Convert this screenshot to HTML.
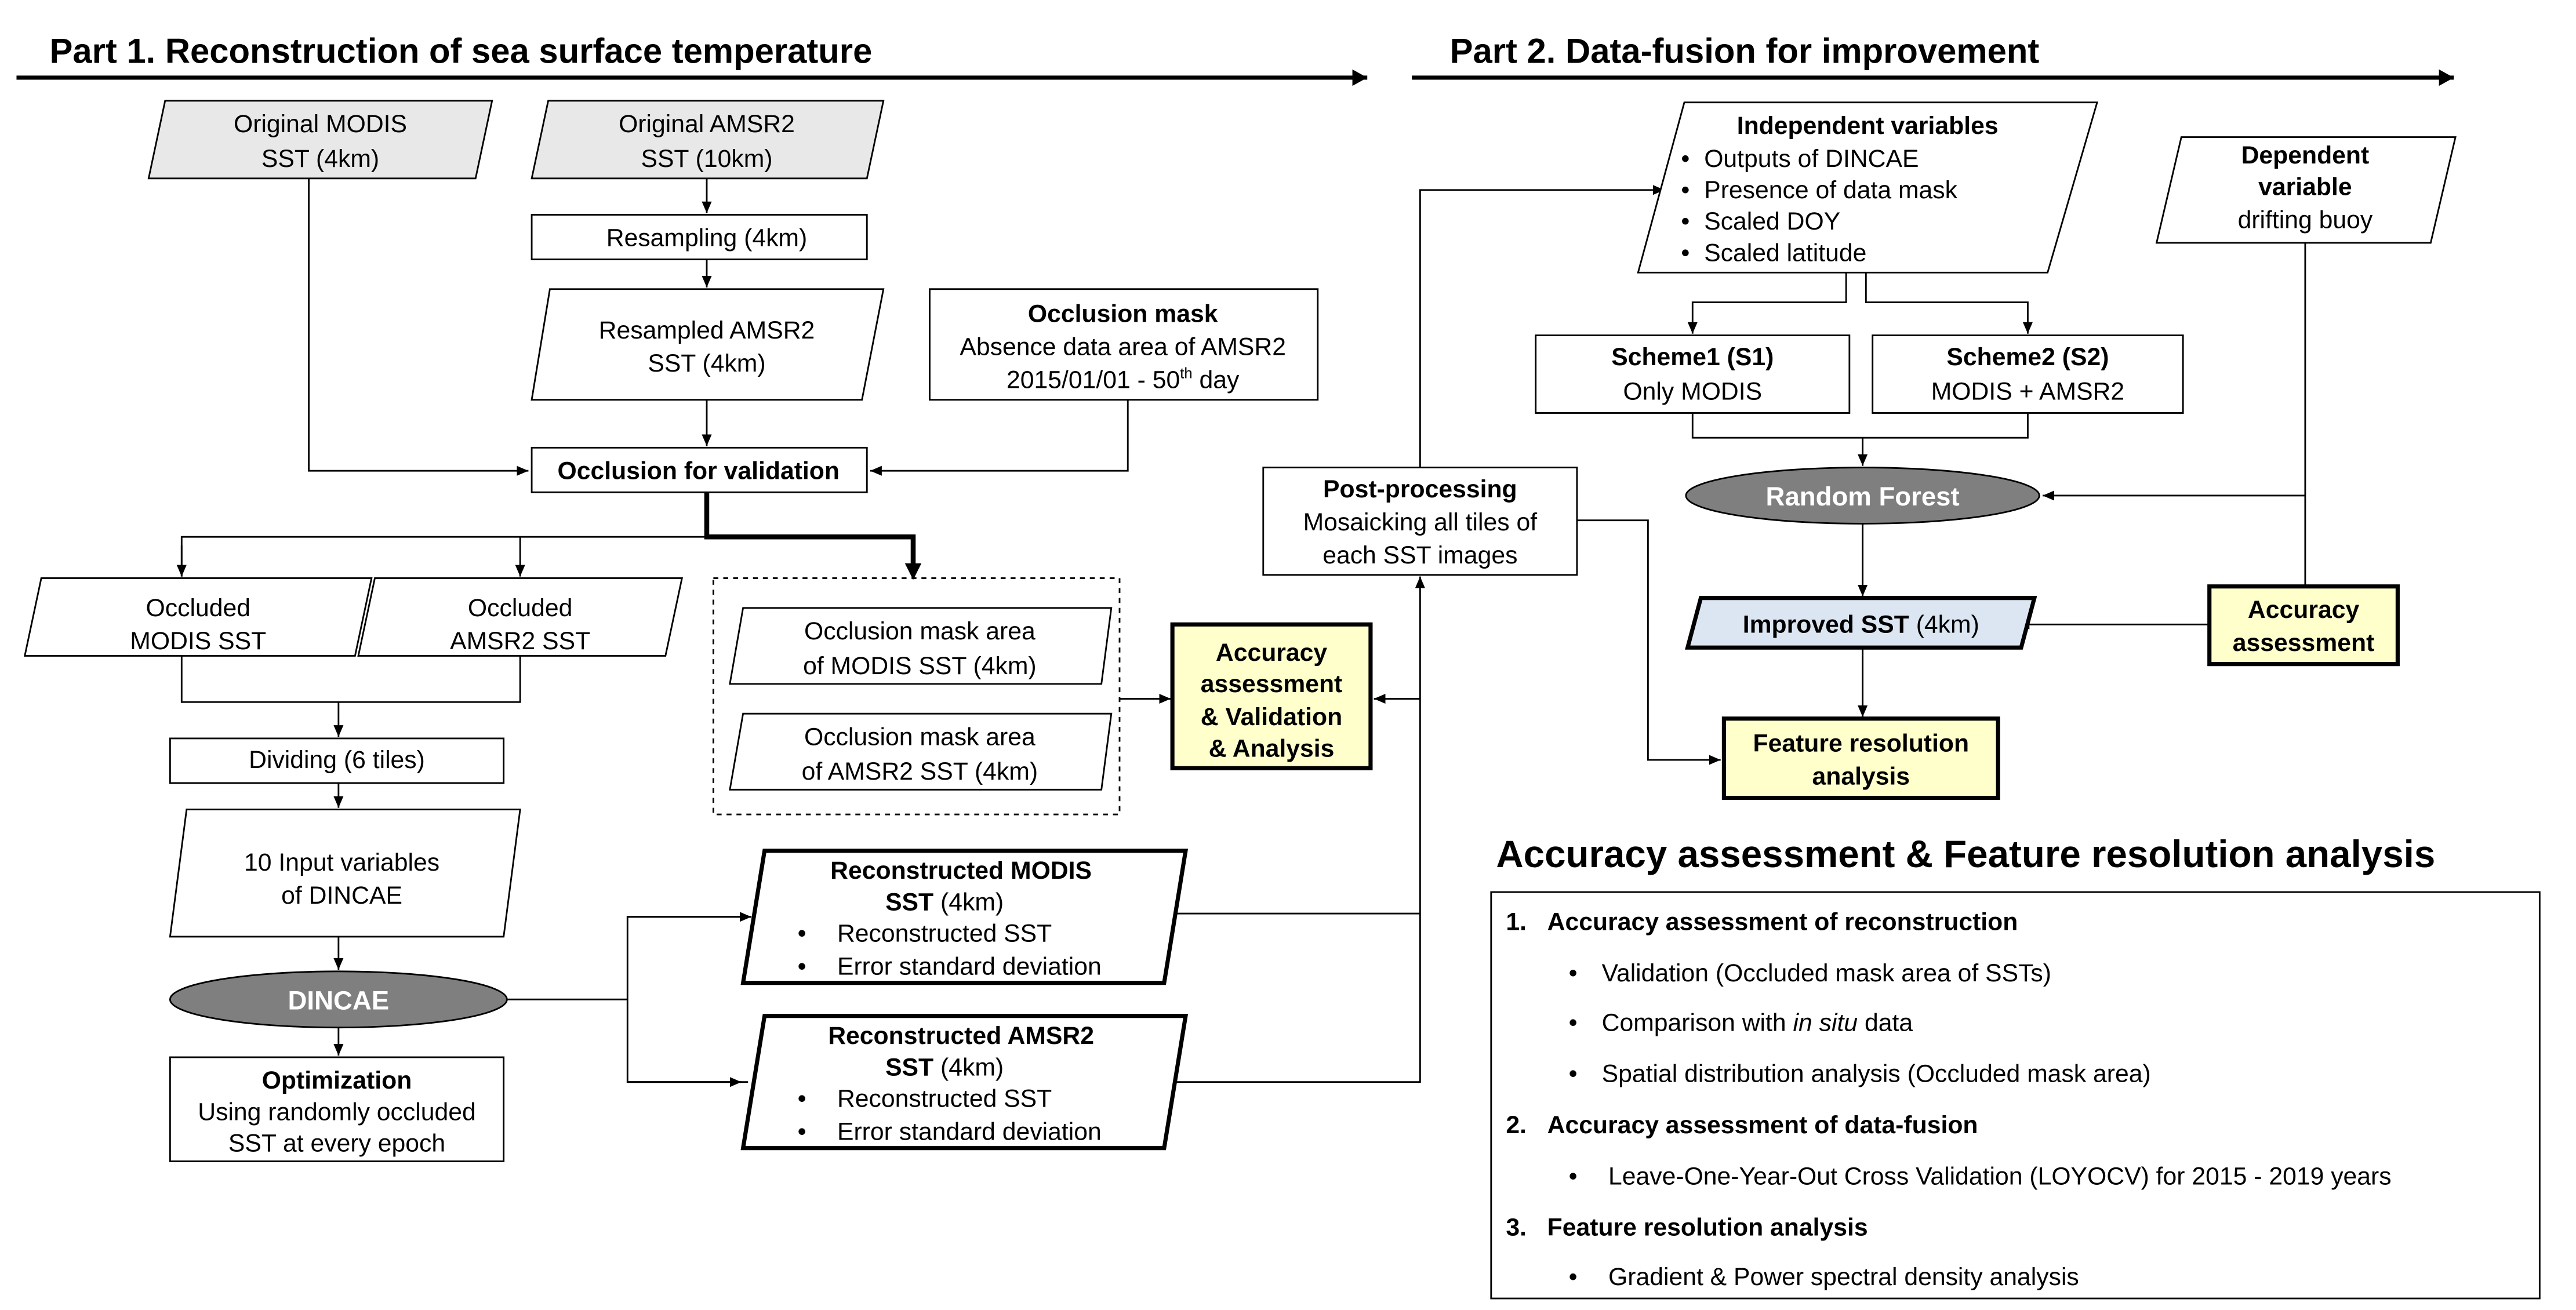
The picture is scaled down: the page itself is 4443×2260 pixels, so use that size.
<!DOCTYPE html>
<html><head><meta charset="utf-8"><style>html,body{margin:0;padding:0;background:#fff;}svg{display:block;}</style></head>
<body>
<svg xmlns="http://www.w3.org/2000/svg" width="4443" height="2260" viewBox="0 0 1560 793" preserveAspectRatio="none" font-family="Liberation Sans, Arial, sans-serif">
<defs>
<marker id="a" markerWidth="8" markerHeight="8" refX="7" refY="4" orient="auto" markerUnits="userSpaceOnUse"><path d="M0,1 L7,4 L0,7 Z" fill="#000"/></marker>
<marker id="ab" markerWidth="10" markerHeight="10" refX="9" refY="5" orient="auto" markerUnits="userSpaceOnUse"><path d="M0,0 L9,5 L0,10 Z" fill="#000"/></marker>
</defs>
<rect width="1560" height="793" fill="#fff"/>
<g fill="#000" font-weight="bold" font-size="21">
<text x="30" y="38">Part 1. Reconstruction of sea surface temperature</text>
<text x="878" y="38">Part 2. Data-fusion for improvement</text>
</g>
<line x1="10" y1="47" x2="828" y2="47" stroke="#000" stroke-width="2.5" marker-end="url(#ab)"/>
<line x1="855" y1="47" x2="1486" y2="47" stroke="#000" stroke-width="2.5" marker-end="url(#ab)"/>

<g stroke="#000" stroke-width="1" fill="none">
<!-- part1 connectors -->
<polyline points="187,108 187,285 320,285" marker-end="url(#a)"/>
<line x1="428" y1="108" x2="428" y2="129" marker-end="url(#a)"/>
<line x1="428" y1="157" x2="428" y2="174" marker-end="url(#a)"/>
<line x1="428" y1="242" x2="428" y2="270" marker-end="url(#a)"/>
<polyline points="683,242 683,285 527,285" marker-end="url(#a)"/>
<polyline points="110,349 110,325 428,325"/>
<line x1="315" y1="325" x2="315" y2="349" marker-end="url(#a)"/>
<line x1="110" y1="330" x2="110" y2="349" marker-end="url(#a)"/>
<polyline points="110,397 110,425 315,425 315,397"/>
<line x1="205" y1="425" x2="205" y2="446" marker-end="url(#a)"/>
<line x1="205" y1="474" x2="205" y2="489" marker-end="url(#a)"/>
<line x1="205" y1="567" x2="205" y2="587" marker-end="url(#a)"/>
<line x1="205" y1="622" x2="205" y2="639" marker-end="url(#a)"/>
<polyline points="307,605 380,605"/>
<polyline points="455,555 380,555 380,655 453,655"/>
<line x1="380" y1="555" x2="455" y2="555" marker-end="url(#a)"/>
<line x1="380" y1="655" x2="449" y2="655" marker-end="url(#a)"/>
<line x1="678" y1="423" x2="709" y2="423" marker-end="url(#a)"/>
<polyline points="706,553 860,553"/>
<polyline points="704,655 860,655 860,349" marker-end="url(#a)"/>
<line x1="860" y1="423" x2="832" y2="423" marker-end="url(#a)"/>
<polyline points="860,283 860,115 1008,115" marker-end="url(#a)"/>
<polyline points="955,315 998,315 998,460 1042,460" marker-end="url(#a)"/>
<!-- part2 -->
<polyline points="1118,165 1118,183 1025,183 1025,202" marker-end="url(#a)"/>
<polyline points="1130,165 1130,183 1228,183 1228,202" marker-end="url(#a)"/>
<polyline points="1025,250 1025,265 1228,265 1228,250"/>
<line x1="1128" y1="265" x2="1128" y2="282" marker-end="url(#a)"/>
<polyline points="1396,147 1396,355"/>
<line x1="1396" y1="300" x2="1237" y2="300" marker-end="url(#a)"/>
<line x1="1128" y1="317" x2="1128" y2="361" marker-end="url(#a)"/>
<line x1="1338" y1="378" x2="1222" y2="378" marker-end="url(#a)"/>
<line x1="1128" y1="393" x2="1128" y2="434" marker-end="url(#a)"/>
</g>
<!-- thick branch -->
<polyline points="428,298 428,325 553,325 553,343" fill="none" stroke="#000" stroke-width="3"/>
<path d="M548,341 L553,351 L558,341 Z" fill="#000"/>

<!-- shapes -->
<g stroke="#000" stroke-width="1">
<polygon points="100,61 298,61 288,108 90,108" fill="#e8e8e8"/>
<polygon points="332,61 535,61 525,108 322,108" fill="#e8e8e8"/>
<rect x="322" y="130" width="203" height="27" fill="#fff"/>
<polygon points="333,175 535,175 522,242 322,242" fill="#fff"/>
<rect x="563" y="175" width="235" height="67" fill="#fff"/>
<rect x="322" y="271" width="203" height="27" fill="#fff"/>
<polygon points="25,350 225,350 215,397 15,397" fill="#fff"/>
<polygon points="227,350 413,350 403,397 217,397" fill="#fff"/>
<rect x="432" y="350" width="246" height="143" fill="none" stroke-dasharray="3,3"/>
<polygon points="450,368 673,368 667,414 442,414" fill="#fff"/>
<polygon points="450,432 673,432 667,478 442,478" fill="#fff"/>
<rect x="103" y="447" width="202" height="27" fill="#fff"/>
<polygon points="113,490 315,490 305,567 103,567" fill="#fff"/>
<ellipse cx="205" cy="605" rx="102" ry="17" fill="#7f7f7f"/>
<rect x="103" y="640" width="202" height="63" fill="#fff"/>
<rect x="765" y="283" width="190" height="65" fill="#fff"/>
<polygon points="1020,62 1270,62 1240,165 992,165" fill="#fff"/>
<polygon points="1321,83 1487,83 1472,147 1306,147" fill="#fff"/>
<rect x="930" y="203" width="190" height="47" fill="#fff"/>
<rect x="1134" y="203" width="188" height="47" fill="#fff"/>
<ellipse cx="1128" cy="300" rx="107" ry="17" fill="#7f7f7f"/>
<rect x="903" y="540" width="635" height="246" fill="#fff"/>
</g>
<g stroke="#000" stroke-width="2.5">
<polygon points="463,515 718,515 705,595 450,595" fill="#fff"/>
<polygon points="463,615 718,615 705,695 450,695" fill="#fff"/>
<rect x="710" y="378" width="120" height="87" fill="#ffffcc"/>
<rect x="1338" y="355" width="114" height="47" fill="#ffffcc"/>
<polygon points="1030,362 1232,362 1224,392 1022,392" fill="#dce6f2"/>
<rect x="1044" y="435" width="166" height="48" fill="#ffffcc"/>
</g>

<g font-size="15" fill="#000" text-anchor="middle">
<text x="194" y="80">Original MODIS</text><text x="194" y="101">SST (4km)</text>
<text x="428" y="80">Original AMSR2</text><text x="428" y="101">SST (10km)</text>
<text x="428" y="149">Resampling (4km)</text>
<text x="428" y="205">Resampled AMSR2</text><text x="428" y="225">SST (4km)</text>
<text x="680" y="195" font-weight="bold">Occlusion mask</text>
<text x="680" y="215">Absence data area of AMSR2</text>
<text x="680" y="235">2015/01/01 - 50<tspan font-size="9" dy="-6">th</tspan><tspan dy="6"> day</tspan></text>
<text x="423" y="290" font-weight="bold">Occlusion for validation</text>
<text x="120" y="373">Occluded</text><text x="120" y="393">MODIS SST</text>
<text x="315" y="373">Occluded</text><text x="315" y="393">AMSR2 SST</text>
<text x="557" y="387">Occlusion mask area</text><text x="557" y="408">of MODIS SST (4km)</text>
<text x="557" y="451">Occlusion mask area</text><text x="557" y="472">of AMSR2 SST (4km)</text>
<g font-weight="bold"><text x="770" y="400">Accuracy</text><text x="770" y="419">assessment</text><text x="770" y="439">&amp; Validation</text><text x="770" y="458">&amp; Analysis</text></g>
<text x="204" y="465">Dividing (6 tiles)</text>
<text x="207" y="527">10 Input variables</text><text x="207" y="547">of DINCAE</text>
<text x="205" y="611" fill="#fff" font-weight="bold" font-size="16">DINCAE</text>
<text x="204" y="659" font-weight="bold">Optimization</text>
<text x="204" y="678">Using randomly occluded</text>
<text x="204" y="697">SST at every epoch</text>
<text x="582" y="532" font-weight="bold">Reconstructed MODIS</text>
<text x="572" y="551"><tspan font-weight="bold">SST</tspan> (4km)</text>
<text x="582" y="632" font-weight="bold">Reconstructed AMSR2</text>
<text x="572" y="651"><tspan font-weight="bold">SST</tspan> (4km)</text>
<text x="860" y="301" font-weight="bold">Post-processing</text>
<text x="860" y="321">Mosaicking all tiles of</text>
<text x="860" y="341">each SST images</text>
<text x="1131" y="81" font-weight="bold">Independent variables</text>
<g font-weight="bold"><text x="1396" y="99">Dependent</text><text x="1396" y="118">variable</text></g>
<text x="1396" y="138">drifting buoy</text>
<text x="1025" y="221" font-weight="bold">Scheme1 (S1)</text><text x="1025" y="242">Only MODIS</text>
<text x="1228" y="221" font-weight="bold">Scheme2 (S2)</text><text x="1228" y="242">MODIS + AMSR2</text>
<text x="1128" y="306" fill="#fff" font-weight="bold" font-size="16">Random Forest</text>
<text x="1127" y="383"><tspan font-weight="bold">Improved SST</tspan> (4km)</text>
<g font-weight="bold"><text x="1395" y="374">Accuracy</text><text x="1395" y="394">assessment</text>
<text x="1127" y="455">Feature resolution</text><text x="1127" y="475">analysis</text></g>
</g>
<g font-size="15" fill="#000">
<text x="483" y="570">•</text><text x="507" y="570">Reconstructed SST</text>
<text x="483" y="590">•</text><text x="507" y="590">Error standard deviation</text>
<text x="483" y="670">•</text><text x="507" y="670">Reconstructed SST</text>
<text x="483" y="690">•</text><text x="507" y="690">Error standard deviation</text>
<text x="1018" y="101">•</text><text x="1032" y="101">Outputs of DINCAE</text>
<text x="1018" y="120">•</text><text x="1032" y="120">Presence of data mask</text>
<text x="1018" y="139">•</text><text x="1032" y="139">Scaled DOY</text>
<text x="1018" y="158">•</text><text x="1032" y="158">Scaled latitude</text>
<text x="906" y="525" font-size="23" font-weight="bold">Accuracy assessment &amp; Feature resolution analysis</text>
<g font-weight="bold"><text x="912" y="563">1.</text><text x="937" y="563">Accuracy assessment of reconstruction</text>
<text x="912" y="686">2.</text><text x="937" y="686">Accuracy assessment of data-fusion</text>
<text x="912" y="748">3.</text><text x="937" y="748">Feature resolution analysis</text></g>
<text x="950" y="594">•</text><text x="970" y="594">Validation (Occluded mask area of SSTs)</text>
<text x="950" y="624">•</text><text x="970" y="624">Comparison with <tspan font-style="italic">in situ</tspan> data</text>
<text x="950" y="655">•</text><text x="970" y="655">Spatial distribution analysis (Occluded mask area)</text>
<text x="950" y="717">•</text><text x="974" y="717">Leave-One-Year-Out Cross Validation (LOYOCV) for 2015 - 2019 years</text>
<text x="950" y="778">•</text><text x="974" y="778">Gradient &amp; Power spectral density analysis</text>
</g>
</svg>
</body></html>
